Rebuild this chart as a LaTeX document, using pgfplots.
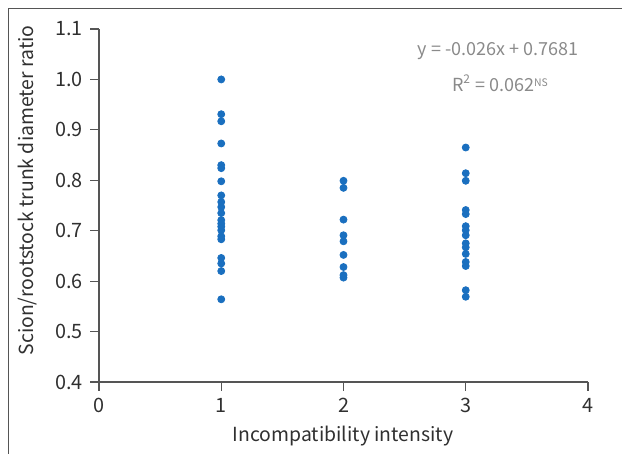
\documentclass[border=0pt]{standalone}
\usepackage{pgfplots}
\pgfplotsset{compat=1.18}
\usepackage{fontspec}
\setmainfont{Noto Sans CJK KR}
\definecolor{dotblue}{HTML}{1A6FBF}
\definecolor{axisgray}{HTML}{555555}
\definecolor{txtgray}{HTML}{8A8A8A}
\definecolor{txt}{HTML}{303030}
\begin{document}
\begin{tikzpicture}[x=1pt,y=1pt]
\useasboundingbox (0,0) rectangle (311,227);
\draw[axisgray, line width=0.5pt] (4,0) -- (4,222.5) -- (311,222.5);
\begin{axis}[
  at={(49.5pt,36pt)}, anchor=south west,
  scale only axis, width=244.5pt, height=176.5pt,
  xmin=0, xmax=4, ymin=0.4, ymax=1.1,
  xtick={0,1,2,3,4}, ytick={0.4,0.5,...,1.1},
  axis lines*=left,
  axis line style={axisgray, line width=0.6pt},
  tick style={axisgray, line width=0.6pt},
  tick align=outside, major tick length=4.5pt,
  clip=false,
  /pgf/number format/assume math mode=true,
  yticklabel style={/pgf/number format/.cd, fixed, fixed zerofill, precision=1},
  ticklabel style={font=\fontsize{9.9}{12}\selectfont, text=txt},
]
\addplot[only marks, mark=*, mark size=1.75pt, mark options={draw=dotblue, fill=dotblue}, color=dotblue] coordinates {
(1,1.000) (1,0.931) (1,0.917) (1,0.873) (1,0.830) (1,0.824) (1,0.798)
(1,0.770) (1,0.757) (1,0.747) (1,0.735) (1,0.721) (1,0.714) (1,0.708)
(1,0.701) (1,0.689) (1,0.683) (1,0.646) (1,0.635) (1,0.620) (1,0.564)
(2,0.799) (2,0.785) (2,0.722) (2,0.691) (2,0.679) (2,0.652) (2,0.628)
(2,0.612) (2,0.607)
(3,0.865) (3,0.814) (3,0.799) (3,0.741) (3,0.733) (3,0.709) (3,0.701)
(3,0.691) (3,0.675) (3,0.667) (3,0.654) (3,0.638) (3,0.630) (3,0.582)
(3,0.569)
};
\node[text=txtgray, font=\fontsize{9}{11}\selectfont] at (axis cs:3.265,1.056) {y = -0.026x + 0.7681};
\node[text=txtgray, font=\fontsize{9}{11}\selectfont] at (axis cs:3.28,0.993) {R\textsuperscript{2} = 0.062{\fontsize{5.2}{6}\selectfont\raisebox{0.75ex}{NS}}};
\end{axis}
\node[rotate=90, text=txt, font=\fontsize{9.7}{12}\selectfont] at (14,131.75) {Scion/rootstock trunk diameter ratio};
\node[text=txt, font=\fontsize{9.7}{12}\selectfont] at (171.5,9) {Incompatibility intensity};
\end{tikzpicture}
\end{document}
